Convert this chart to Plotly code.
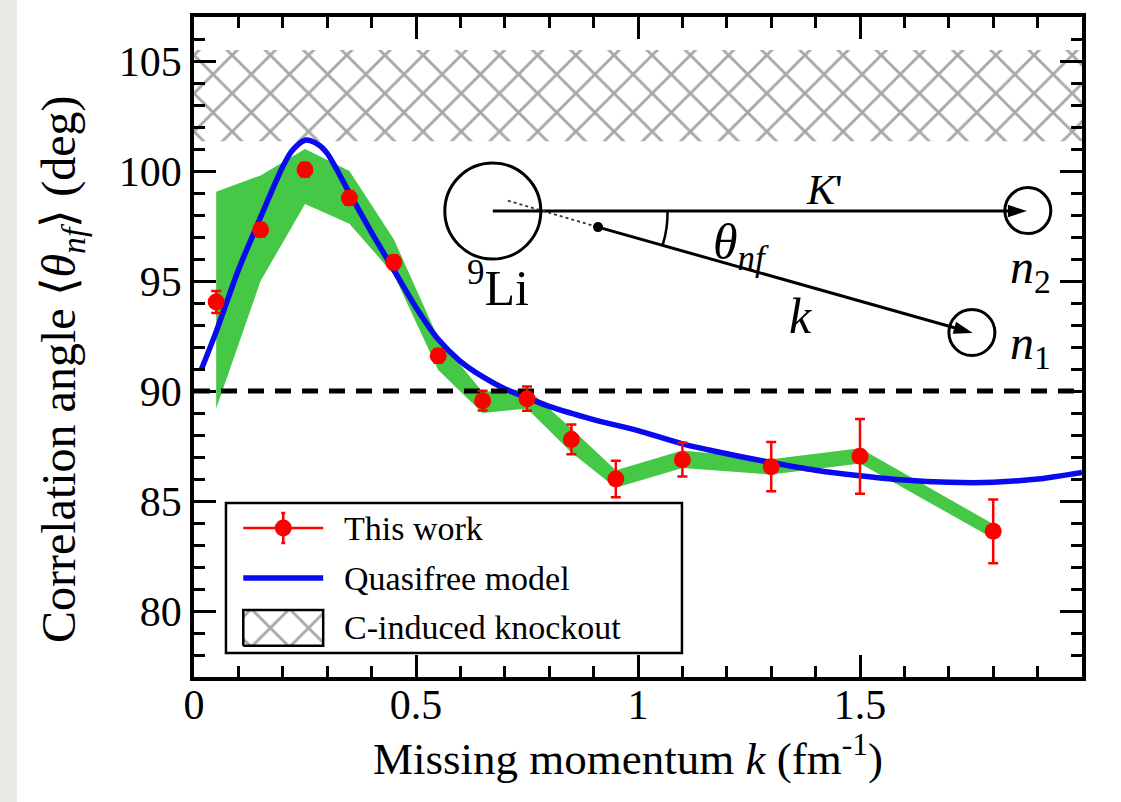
import plotly.graph_objects as go

# ---------------- data ----------------
k_data = [0.05, 0.15, 0.25, 0.35, 0.45, 0.55, 0.65, 0.75, 0.85, 0.95, 1.1, 1.3, 1.5, 1.8]
theta_data = [94.05, 97.33, 100.06, 98.77, 95.85, 91.6, 89.56, 89.65, 87.8, 86.0, 86.88, 86.56, 87.03, 83.62]
theta_err = [0.5, 0.3, 0.3, 0.3, 0.3, 0.3, 0.45, 0.55, 0.68, 0.83, 0.77, 1.12, 1.7, 1.45]

band_upper = [99.06, 99.8, 101.0, 100.0, 96.9, 92.4, 89.95, 90.1, 88.3, 86.4, 87.3, 86.9, 87.4, 83.95]
band_lower = [89.2, 95.0, 98.5, 97.6, 95.3, 90.95, 89.0, 89.2, 87.2, 85.6, 86.5, 86.2, 86.7, 83.3]

k_model = [0.016, 0.05, 0.10, 0.15, 0.20, 0.22, 0.25, 0.28, 0.30, 0.35, 0.40, 0.45, 0.50, 0.55, 0.60,
           0.65, 0.70, 0.75, 0.80, 0.90, 1.00, 1.10, 1.20, 1.30, 1.40, 1.50, 1.60, 1.70, 1.80, 1.90, 2.00]
theta_model = [90.95, 92.7, 95.5, 97.9, 100.2, 100.9, 101.4, 101.2, 100.8, 99.0, 97.2, 95.5, 93.8, 92.35, 91.35,
               90.65, 90.1, 89.7, 89.3, 88.7, 88.2, 87.6, 87.15, 86.75, 86.4, 86.15, 85.95, 85.85, 85.85, 86.0, 86.3]

knockout_k = [0.0, 2.0]
knockout_low, knockout_high = 101.35, 105.5
ref_angle = 90.0

x_ticks = [0, 0.5, 1, 1.5]
x_ticklabels = ["0", "0.5", "1", "1.5"]
y_ticks = [80, 85, 90, 95, 100, 105]

legend_labels = ["This work", "Quasifree model", "C-induced knockout"]

FONT = "Liberation Serif"
RED = "#ff0000"
BLUE = "#0a0af0"
GREEN = "#45c845"
HATCH = dict(shape="x", size=27, solidity=0.2, fgcolor="#505050", bgcolor="white")

fig = go.Figure()

# C-induced knockout hatched region
fig.add_trace(go.Scatter(
    x=[knockout_k[0], knockout_k[1], knockout_k[1], knockout_k[0], knockout_k[0]],
    y=[knockout_low, knockout_low, knockout_high, knockout_high, knockout_low],
    mode="lines", fill="toself", line=dict(width=0, color="rgba(0,0,0,0)"),
    fillcolor="white", fillpattern=HATCH, showlegend=False, hoverinfo="skip"))

# green uncertainty band
fig.add_trace(go.Scatter(
    x=k_data + k_data[::-1], y=band_upper + band_lower[::-1],
    mode="lines", fill="toself", fillcolor=GREEN, line=dict(width=0, color=GREEN),
    showlegend=False, hoverinfo="skip"))

# quasifree model
fig.add_trace(go.Scatter(
    x=k_model, y=theta_model, mode="lines", line=dict(color=BLUE, width=5.5, shape="spline", smoothing=0.8),
    name="Quasifree model", showlegend=False))

# 90 deg dashed reference
fig.add_trace(go.Scatter(
    x=knockout_k, y=[ref_angle, ref_angle], mode="lines",
    line=dict(color="black", width=5, dash="16px,11px"), showlegend=False, hoverinfo="skip"))

# data
fig.add_trace(go.Scatter(
    x=k_data, y=theta_data, mode="markers", name="This work",
    marker=dict(color=RED, size=17),
    error_y=dict(type="data", array=theta_err, color=RED, thickness=2.5, width=5),
    showlegend=False))

# ---------------- hand-drawn legend (glyphs + texts) ----------------
LG_X0, LG_X1 = 0.111, 0.291
LG_XC = 0.201
LG_ROWS = [83.77, 81.5, 79.23]
fig.add_trace(go.Scatter(x=[LG_X0, LG_X1], y=[LG_ROWS[0]] * 2, mode="lines",
                         line=dict(color=RED, width=2.5), showlegend=False, hoverinfo="skip"))
fig.add_trace(go.Scatter(x=[LG_XC], y=[LG_ROWS[0]], mode="markers", marker=dict(color=RED, size=17),
                         error_y=dict(type="constant", value=0.68, color=RED, thickness=2.5, width=2),
                         showlegend=False, hoverinfo="skip"))
fig.add_trace(go.Scatter(x=[LG_X0, LG_X1], y=[LG_ROWS[1]] * 2, mode="lines",
                         line=dict(color=BLUE, width=5.5), showlegend=False, hoverinfo="skip"))
fig.add_trace(go.Scatter(x=[LG_X0, LG_X1, LG_X1, LG_X0, LG_X0],
                         y=[78.42, 78.42, 80.05, 80.05, 78.42], mode="lines", fill="toself",
                         fillcolor="white", fillpattern=HATCH, line=dict(color="black", width=2.5),
                         showlegend=False, hoverinfo="skip"))

# ---------------- inset diagram ----------------
ARROW_MARK = dict(symbol=["line-ns", "arrow"], size=[1, 20], angleref="previous",
                  color="black", line=dict(width=0, color="black"), opacity=1)
fig.add_trace(go.Scatter(x=[0.673, 1.876], y=[98.18, 98.18], mode="lines+markers",
                         line=dict(color="black", width=3), marker=ARROW_MARK,
                         showlegend=False, hoverinfo="skip"))
fig.add_trace(go.Scatter(x=[0.707, 0.910], y=[98.65, 97.45], mode="lines",
                         line=dict(color="#333333", width=1.8, dash="dot"), showlegend=False, hoverinfo="skip"))
fig.add_trace(go.Scatter(x=[0.910, 1.7538], y=[97.45, 92.64], mode="lines+markers",
                         line=dict(color="black", width=3), marker=ARROW_MARK,
                         showlegend=False, hoverinfo="skip"))
fig.add_trace(go.Scatter(x=[0.910], y=[97.45], mode="markers",
                         marker=dict(symbol="circle", size=10, color="black"),
                         showlegend=False, hoverinfo="skip"))

shapes = []
def circ(cx, cy, rpx):
    dx = rpx / 444.0
    dy = rpx / 22.0
    return dict(type="circle", xref="x", yref="y", x0=cx - dx, x1=cx + dx, y0=cy - dy, y1=cy + dy,
                line=dict(color="black", width=3))
shapes.append(circ(0.673, 98.18, 48))
shapes.append(circ(1.878, 98.2, 23))
shapes.append(circ(1.752, 92.66, 23))
shapes.append(dict(type="path", xref="x", yref="y",
                   path="M 1.0665,98.18 Q 1.0672,97.38 1.0556,96.64",
                   line=dict(color="black", width=2.5)))
# legend frame
shapes.append(dict(type="rect", xref="x", yref="y", x0=0.072, x1=1.099, y0=78.09, y1=84.91,
                   fillcolor="white", line=dict(color="black", width=2.5), layer="below"))
# left grey strip of the page
shapes.append(dict(type="rect", xref="paper", yref="paper", x0=-194 / 888, x1=-177 / 888,
                   y0=-125 / 660, y1=1 + 17 / 660, fillcolor="#ebe9e3", line=dict(width=0), layer="below"))

annotations = []
def label(x, y, txt, size=48, xanchor="center"):
    annotations.append(dict(x=x, y=y, xref="x", yref="y", text=txt, showarrow=False,
                            font=dict(family=FONT, size=size, color="black"),
                            xanchor=xanchor, yanchor="middle"))
label(0.685, 94.85, "<sup>9</sup>Li", 50)
label(1.421, 99.15, "<i>K</i>'", 42)
label(1.232, 96.6, "<i>θ</i><sub><i>nf</i></sub>", 50)
label(1.365, 93.4, "<i>k</i>", 50)
label(1.883, 95.5, "<i>n</i><sub>2</sub>", 48)
label(1.883, 92.05, "<i>n</i><sub>1</sub>", 48)
for txt, yrow in zip(legend_labels, LG_ROWS):
    label(0.333, yrow, txt, 34, xanchor="left")

# axis titles placed as text
annotations.append(dict(x=-132 / 888, y=(677 - 369) / 660, xref="paper", yref="paper",
                        text="Correlation angle ⟨<i>θ</i><sub><i>nf</i></sub>⟩ (deg)", textangle=-90,
                        showarrow=False, xanchor="center", yanchor="middle",
                        font=dict(family=FONT, size=48, color="black")))
annotations.append(dict(x=(628 - 194) / 888, y=-(755 - 677) / 660, xref="paper", yref="paper",
                        text="Missing momentum <i>k</i> (fm<sup>-1</sup>)",
                        showarrow=False, xanchor="center", yanchor="middle",
                        font=dict(family=FONT, size=45, color="black")))

axis_common = dict(showline=True, linecolor="black", linewidth=3.5,
                   ticks="inside", ticklen=22, tickwidth=3, tickcolor="black",
                   showgrid=False, zeroline=False,
                   tickfont=dict(family=FONT, size=42, color="black"))
minor_x = dict(tickmode="linear", tick0=0, dtick=0.1, ticklen=11, tickwidth=3, tickcolor="black", ticks="inside")
minor_y = dict(tickmode="linear", tick0=0, dtick=1, ticklen=11, tickwidth=3, tickcolor="black", ticks="inside")

# invisible trace to activate the mirrored (top/right) axes
fig.add_trace(go.Scatter(x=[None], y=[None], xaxis="x2", yaxis="y2", showlegend=False, hoverinfo="skip"))

fig.update_layout(
    width=1121, height=802, autosize=False,
    margin=dict(l=194, r=39, t=17, b=125),
    paper_bgcolor="white", plot_bgcolor="white",
    font=dict(family=FONT, color="black"),
    shapes=shapes, annotations=annotations,
    showlegend=False,
    xaxis=dict(range=[0, 2], tickvals=x_ticks, ticktext=x_ticklabels, minor=minor_x,
               ticklabelstandoff=-12, **axis_common),
    yaxis=dict(range=[77, 107], tickvals=y_ticks, minor=minor_y, **axis_common),
    xaxis2=dict(range=[0, 2], overlaying="x", side="top", tickvals=x_ticks, showticklabels=False,
                minor=minor_x, showline=True, linecolor="black", linewidth=3.5,
                ticks="inside", ticklen=22, tickwidth=3, tickcolor="black", showgrid=False, zeroline=False),
    yaxis2=dict(range=[77, 107], overlaying="y", side="right", tickvals=y_ticks, showticklabels=False,
                minor=minor_y, showline=True, linecolor="black", linewidth=3.5,
                ticks="inside", ticklen=22, tickwidth=3, tickcolor="black", showgrid=False, zeroline=False),
)

fig.write_html("out.html")
